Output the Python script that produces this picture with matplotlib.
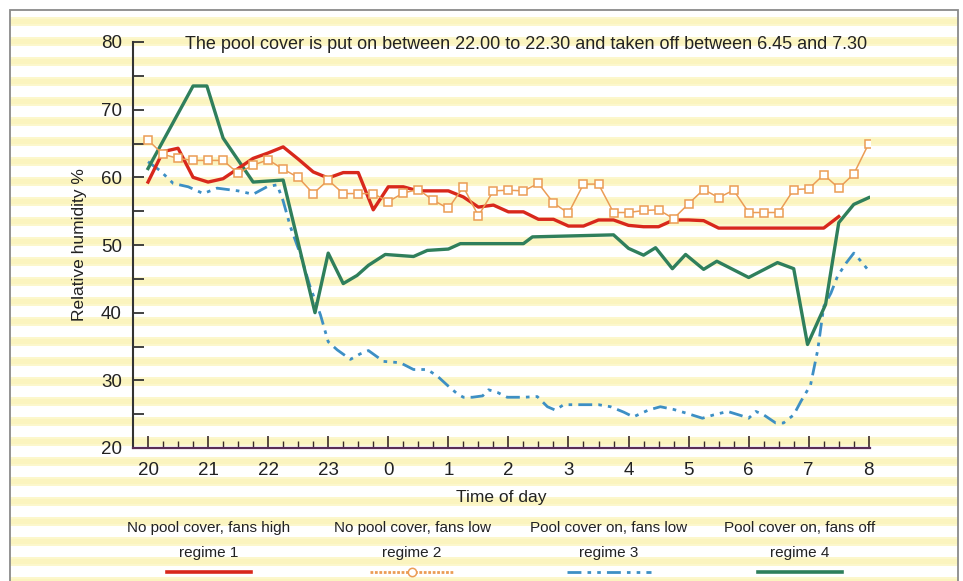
import matplotlib
matplotlib.use("Agg")
import matplotlib.pyplot as plt
from matplotlib.lines import Line2D
from matplotlib.patches import Rectangle

# ---------------- data ----------------
# time in hours after 20:00
tick_hours = [0, 1, 2, 3, 4, 5, 6, 7, 8, 9, 10, 11, 12]
tick_labels = ["20", "21", "22", "23", "0", "1", "2", "3", "4", "5", "6", "7", "8"]

# regime 1 (15-minute readings from 20:00 to 7:30)
r1_time = [0.0, 0.25, 0.5, 0.75, 1.0, 1.25, 1.5, 1.75, 2.0, 2.25, 2.5, 2.75,
           3.0, 3.25, 3.5, 3.75, 4.0, 4.25, 4.5, 4.75, 5.0, 5.25, 5.5, 5.75,
           6.0, 6.25, 6.5, 6.75, 7.0, 7.25, 7.5, 7.75, 8.0, 8.25, 8.5, 8.75,
           9.0, 9.25, 9.5, 9.75, 10.0, 10.25, 10.5, 10.75, 11.0, 11.25, 11.5]
r1_rh = [59.3, 63.8, 64.3, 60.0, 59.3, 59.8, 61.3, 62.8, 63.6, 64.5, 62.7, 60.8,
         59.9, 60.7, 60.7, 55.2, 58.6, 58.6, 58.0, 58.0, 58.0, 57.1, 55.6, 55.9,
         54.9, 54.9, 53.8, 53.8, 52.8, 52.8, 53.7, 53.7, 52.9, 52.7, 52.7, 53.7,
         53.7, 53.6, 52.5, 52.5, 52.5, 52.5, 52.5, 52.5, 52.5, 52.5, 54.2]

# regime 2 (15-minute readings from 20:00 to 8:00)
r2_time = [0.0, 0.25, 0.5, 0.75, 1.0, 1.25, 1.5, 1.75, 2.0, 2.25, 2.5, 2.75,
           3.0, 3.25, 3.5, 3.75, 4.0, 4.25, 4.5, 4.75, 5.0, 5.25, 5.5, 5.75,
           6.0, 6.25, 6.5, 6.75, 7.0, 7.25, 7.5, 7.75, 8.0, 8.25, 8.5, 8.75,
           9.0, 9.25, 9.5, 9.75, 10.0, 10.25, 10.5, 10.75, 11.0, 11.25, 11.5,
           11.75, 12.0]
r2_rh = [65.5, 63.4, 62.8, 62.5, 62.5, 62.5, 60.6, 61.8, 62.6, 61.2, 60.0, 57.6,
         59.6, 57.6, 57.6, 57.6, 56.4, 57.7, 58.2, 56.6, 55.4, 58.6, 54.3, 58.0,
         58.1, 58.0, 59.1, 56.2, 54.7, 59.0, 59.0, 54.8, 54.8, 55.1, 55.2, 53.9,
         56.1, 58.2, 57.0, 58.1, 54.8, 54.8, 54.8, 58.2, 58.3, 60.4, 58.4, 60.5,
         65.0]

# regime 3
r3_time = [0.00, 0.20, 0.42, 0.67, 0.92, 1.15, 1.50, 1.75, 1.98, 2.15, 2.25, 2.37,
           2.53, 2.70, 2.87, 3.00, 3.15, 3.37, 3.53, 3.67, 3.92, 4.20, 4.42, 4.65,
           4.82, 4.98, 5.15, 5.25, 5.40, 5.57, 5.67, 5.82, 5.98, 6.25, 6.48, 6.65,
           6.78, 6.92, 7.50, 7.70, 7.92, 8.08, 8.33, 8.53, 8.75, 8.98, 9.23, 9.42,
           9.65, 9.87, 10.00, 10.12, 10.25, 10.45, 10.58, 10.75, 10.87, 11.03,
           11.15, 11.25, 11.37, 11.48, 11.62, 11.75, 11.87, 11.98]
r3_rh = [62.3, 61.0, 59.1, 58.6, 57.6, 58.4, 58.0, 57.5, 58.6, 58.9, 56.5, 52.7,
         48.8, 43.8, 39.7, 35.7, 34.5, 33.1, 33.9, 34.4, 32.8, 32.6, 31.6, 31.6,
         30.6, 29.3, 28.0, 27.5, 27.5, 27.7, 28.6, 28.2, 27.5, 27.5, 27.6, 26.1,
         25.6, 26.4, 26.4, 26.1, 25.3, 24.6, 25.6, 26.1, 25.7, 25.1, 24.4, 24.9,
         25.4, 24.8, 24.4, 25.4, 24.9, 23.7, 23.7, 24.9, 26.9, 29.3,
         34.5, 40.9, 42.9, 45.4, 47.3, 48.8, 47.6, 46.4]

# regime 4
r4_time = [0.00, 0.75, 0.98, 1.25, 1.75, 2.25, 2.78, 3.00, 3.25, 3.48, 3.67, 3.95,
           4.42, 4.65, 5.00, 5.20, 6.25, 6.40, 7.75, 8.00, 8.25, 8.45, 8.73, 8.95,
           9.25, 9.47, 10.00, 10.48, 10.75, 10.98, 11.28, 11.50, 11.75, 12.00]
r4_rh = [61.3, 73.5, 73.5, 65.8, 59.3, 59.6, 40.0, 48.8, 44.3, 45.5, 47.0, 48.6,
         48.3, 49.2, 49.4, 50.2, 50.2, 51.2, 51.5, 49.5, 48.5, 49.6, 46.5, 48.6,
         46.4, 47.6, 45.2, 47.4, 46.5, 35.3, 41.2, 53.3, 56.0, 57.0]

legend_top = ["No pool cover, fans high", "No pool cover, fans low",
              "Pool cover on, fans low", "Pool cover on, fans off"]
legend_bottom = ["regime 1", "regime 2", "regime 3", "regime 4"]

title_text = ("The pool cover is put on between 22.00 to 22.30 and taken off "
              "between 6.45 and 7.30")

# ---------------- style ----------------
W, H = 963, 581
C_RED = "#d8281c"
C_ORANGE = "#eb9c55"
C_BLUE = "#3d8fc4"
C_GREEN = "#2f7f5c"
TXT = "#222222"
sans = ["Liberation Sans", "DejaVu Sans"]
plt.rcParams["font.family"] = sans

fig = plt.figure(figsize=(W / 100, H / 100), dpi=100)
fig.patch.set_facecolor("white")

# background axes in pixel coordinates
bg = fig.add_axes([0, 0, 1, 1], zorder=0)
bg.set_xlim(0, W)
bg.set_ylim(H, 0)
bg.axis("off")
FX0, FX1, FY0 = 10, 958, 10
y = FY0
while y < H:
    bg.add_patch(Rectangle((FX0, y + 7), FX1 - FX0, 9, facecolor="#fcf7cc",
                           edgecolor="none", zorder=0))
    bg.add_patch(Rectangle((FX0, y + 9), FX1 - FX0, 5, facecolor="#fbf4bf",
                           edgecolor="none", zorder=0))
    y += 20
bg.plot([FX0, FX0, FX1, FX1], [H + 5, FY0, FY0, H + 5], color="#8a8a8a",
        lw=1.3, zorder=2, solid_joinstyle="miter")

# main axes
left, right = 133 / W, 870 / W
bottom, top = 1 - 448 / H, 1 - 42 / H
ax = fig.add_axes([left, bottom, right - left, top - bottom], zorder=2)
ax.set_facecolor("none")

blue_dash = (0, (5, 2.2, 1.3, 2.2, 1.3, 2.2))
ax.plot(r3_time, r3_rh, color=C_BLUE, lw=2.0, linestyle=blue_dash, zorder=3)
ax.plot(r4_time, r4_rh, color=C_GREEN, lw=2.4, zorder=4)
ax.plot(r1_time, r1_rh, color=C_RED, lw=2.4, zorder=5)
ax.plot(r2_time, r2_rh, color=C_ORANGE, lw=1.1, marker="s", ms=6.2,
        mfc="white", mec=C_ORANGE, mew=1.1, zorder=6)

ax.set_xlim(-0.25, 12.02)
ax.set_ylim(20, 80)
ax.set_xticks(tick_hours)
ax.set_xticklabels(tick_labels)
ax.set_xticks([h / 4 for h in range(0, 49) if h % 4], minor=True)
ax.set_yticks([20, 30, 40, 50, 60, 70, 80])
ax.set_yticks([25, 35, 45, 55, 65, 75], minor=True)

for s in ("top", "right"):
    ax.spines[s].set_visible(False)
ax.spines["left"].set_color("#333333")
ax.spines["left"].set_linewidth(1.5)
ax.spines["bottom"].set_color("#5a2c55")
ax.spines["bottom"].set_linewidth(1.6)

ax.tick_params(axis="y", which="both", direction="in", length=8, width=1.3,
               color="#333333", labelsize=13.5, labelcolor=TXT, pad=8)
ax.tick_params(axis="x", which="major", direction="in", length=9, width=1.2,
               color="#3a2a2a", labelsize=13.5, labelcolor=TXT, pad=10)
ax.tick_params(axis="x", which="minor", direction="in", length=5, width=1.0,
               color="#3a2a2a")

ax.set_ylabel("Relative humidity %", fontsize=12.5, color=TXT, labelpad=10)
ax.set_xlabel("Time of day", fontsize=12.5, color=TXT, labelpad=8)

ax.text(0.534, 0.995, title_text, transform=ax.transAxes, ha="center",
        va="center", fontsize=13, color=TXT)

# custom legend
centers = [209, 412, 609, 800]
styles = [
    dict(color=C_RED, lw=2.6, linestyle="-"),
    dict(color=C_ORANGE, lw=2.0, linestyle=(0, (1, 0.6))),
    dict(color=C_BLUE, lw=2.0, linestyle=blue_dash),
    dict(color=C_GREEN, lw=2.6, linestyle="-"),
]
for cx, t1, t2, st in zip(centers, legend_top, legend_bottom, styles):
    bg.text(cx, 528, t1, ha="center", va="center", fontsize=11, color=TXT,
            zorder=3)
    bg.text(cx, 553, t2, ha="center", va="center", fontsize=11, color=TXT,
            zorder=3)
    bg.add_line(Line2D([cx - 42, cx + 42], [572, 572], zorder=3, **st))
    if st["color"] == C_ORANGE:
        bg.plot([cx], [572], marker="o", ms=6, mfc="white", mec=C_ORANGE,
                mew=1.1, zorder=4)

fig.savefig("out.png", dpi=100, facecolor="white")
